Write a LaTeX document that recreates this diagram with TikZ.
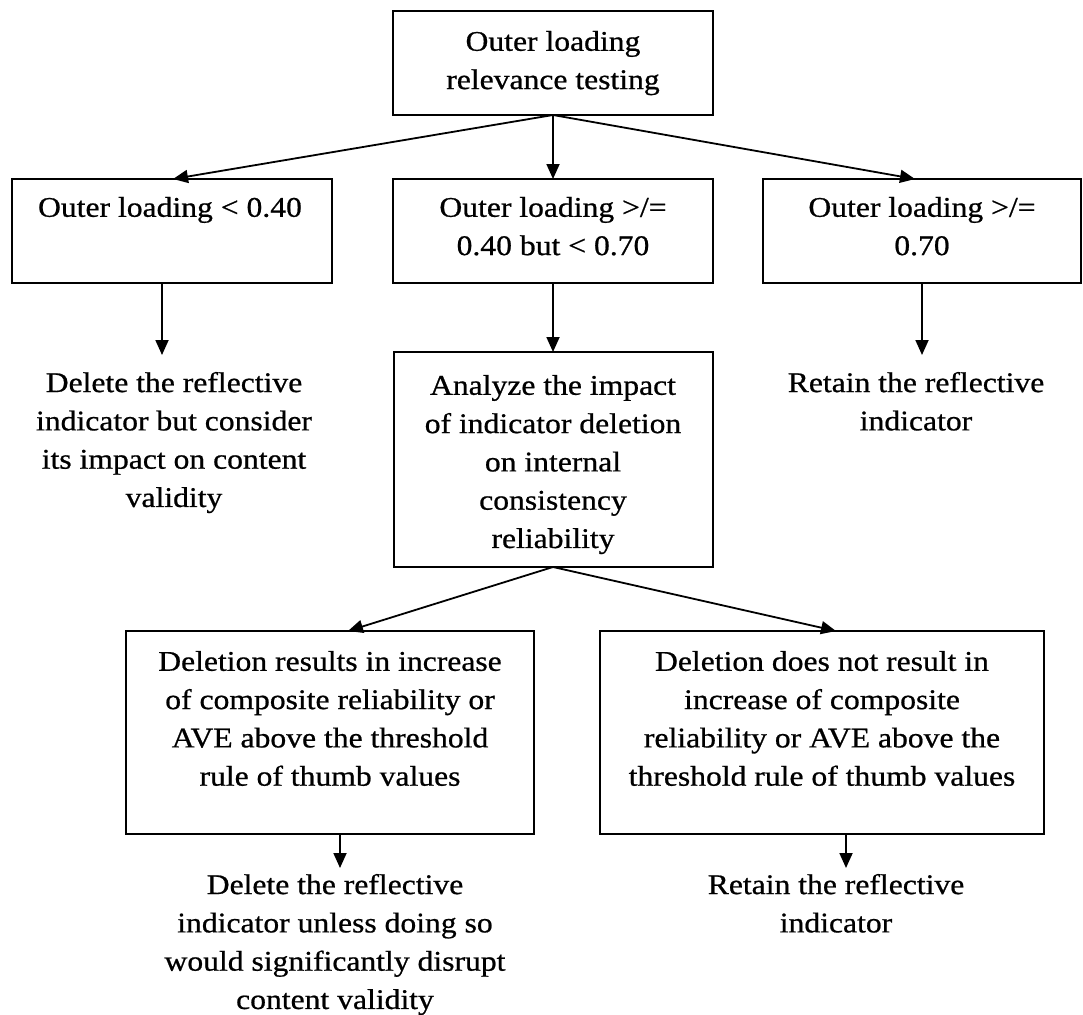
\documentclass[tikz,border=0pt]{standalone}
\usepackage{fontspec}
\setmainfont{Liberation Serif}[FakeStretch=1.11,FakeBold=0.7]
\usetikzlibrary{arrows.meta}
\begin{document}
\begin{tikzpicture}[x=1pt,y=-1pt,
  box/.style={draw=black,line width=1.8pt,inner sep=0pt,outer sep=0pt},
  txt/.style={anchor=north,inner sep=0pt,outer sep=0pt,align=center,font=\fontsize{28.5}{38.3}\selectfont},
  arr/.style={line width=1.8pt,-{Triangle[length=15pt,width=13pt]}}]
\useasboundingbox[fill=white] (0,0) rectangle (1083,1014);
% boxes
\node[box,minimum width=320pt,minimum height=104pt] (top) at (553,63) {};
\node[box,minimum width=320pt,minimum height=104pt] (b1) at (172,231) {};
\node[box,minimum width=320pt,minimum height=104pt] (b2) at (553,231) {};
\node[box,minimum width=318pt,minimum height=104pt] (b3) at (922,231) {};
\node[box,minimum width=319pt,minimum height=215pt] (an) at (553.5,459.5) {};
\node[box,minimum width=408pt,minimum height=203pt] (bl) at (330,732.5) {};
\node[box,minimum width=444pt,minimum height=203pt] (br) at (822,732.5) {};
% texts
\node[txt] (toptxt) at (553,31) {Outer loading\\relevance testing};
\node[txt] (b1txt) at (170,197) {Outer loading < 0.40};
\node[txt] (b2txt) at (553,197) {Outer loading >/=\\0.40 but < 0.70};
\node[txt] (b3txt) at (922,197) {Outer loading >/=\\0.70};
\node[txt] (deltxt) at (174,372) {Delete the reflective\\indicator but consider\\its impact on content\\validity};
\node[txt] (antxt) at (553,375) {Analyze the impact\\of indicator deletion\\on internal\\consistency\\reliability};
\node[txt] (rettxt) at (916,372) {Retain the reflective\\indicator};
\node[txt] (bltxt) at (330,651) {Deletion results in increase\\of composite reliability or\\AVE above the threshold\\rule of thumb values};
\node[txt] (brtxt) at (822,651) {Deletion does not result in\\increase of composite\\reliability or AVE above the\\threshold rule of thumb values};
\node[txt] (del2txt) at (335,874) {Delete the reflective\\indicator unless doing so\\would significantly disrupt\\content validity};
\node[txt] (ret2txt) at (836,874) {Retain the reflective\\indicator};
% arrow end points
\coordinate (e1) at (173,179);
\coordinate (e3) at (915,179);
\coordinate (e4) at (162,355);
\coordinate (e6) at (922,355);
\coordinate (e7) at (348,631);
\coordinate (e8) at (836,631);
\coordinate (e9) at (340,868);
\coordinate (e10) at (846,868);
% connectors
\draw[arr] (top.south) -- (e1);
\draw[arr] (top.south) -- (b2.north);
\draw[arr] (top.south) -- (e3);
\draw[arr] (b1.south -| e4) -- (e4);
\draw[arr] (b2.south) -- (an.north -| b2.south);
\draw[arr] (b3.south -| e6) -- (e6);
\draw[arr] (an.south -| b2.south) -- (e7);
\draw[arr] (an.south -| b2.south) -- (e8);
\draw[arr] (bl.south -| e9) -- (e9);
\draw[arr] (br.south -| e10) -- (e10);
\end{tikzpicture}
\end{document}
